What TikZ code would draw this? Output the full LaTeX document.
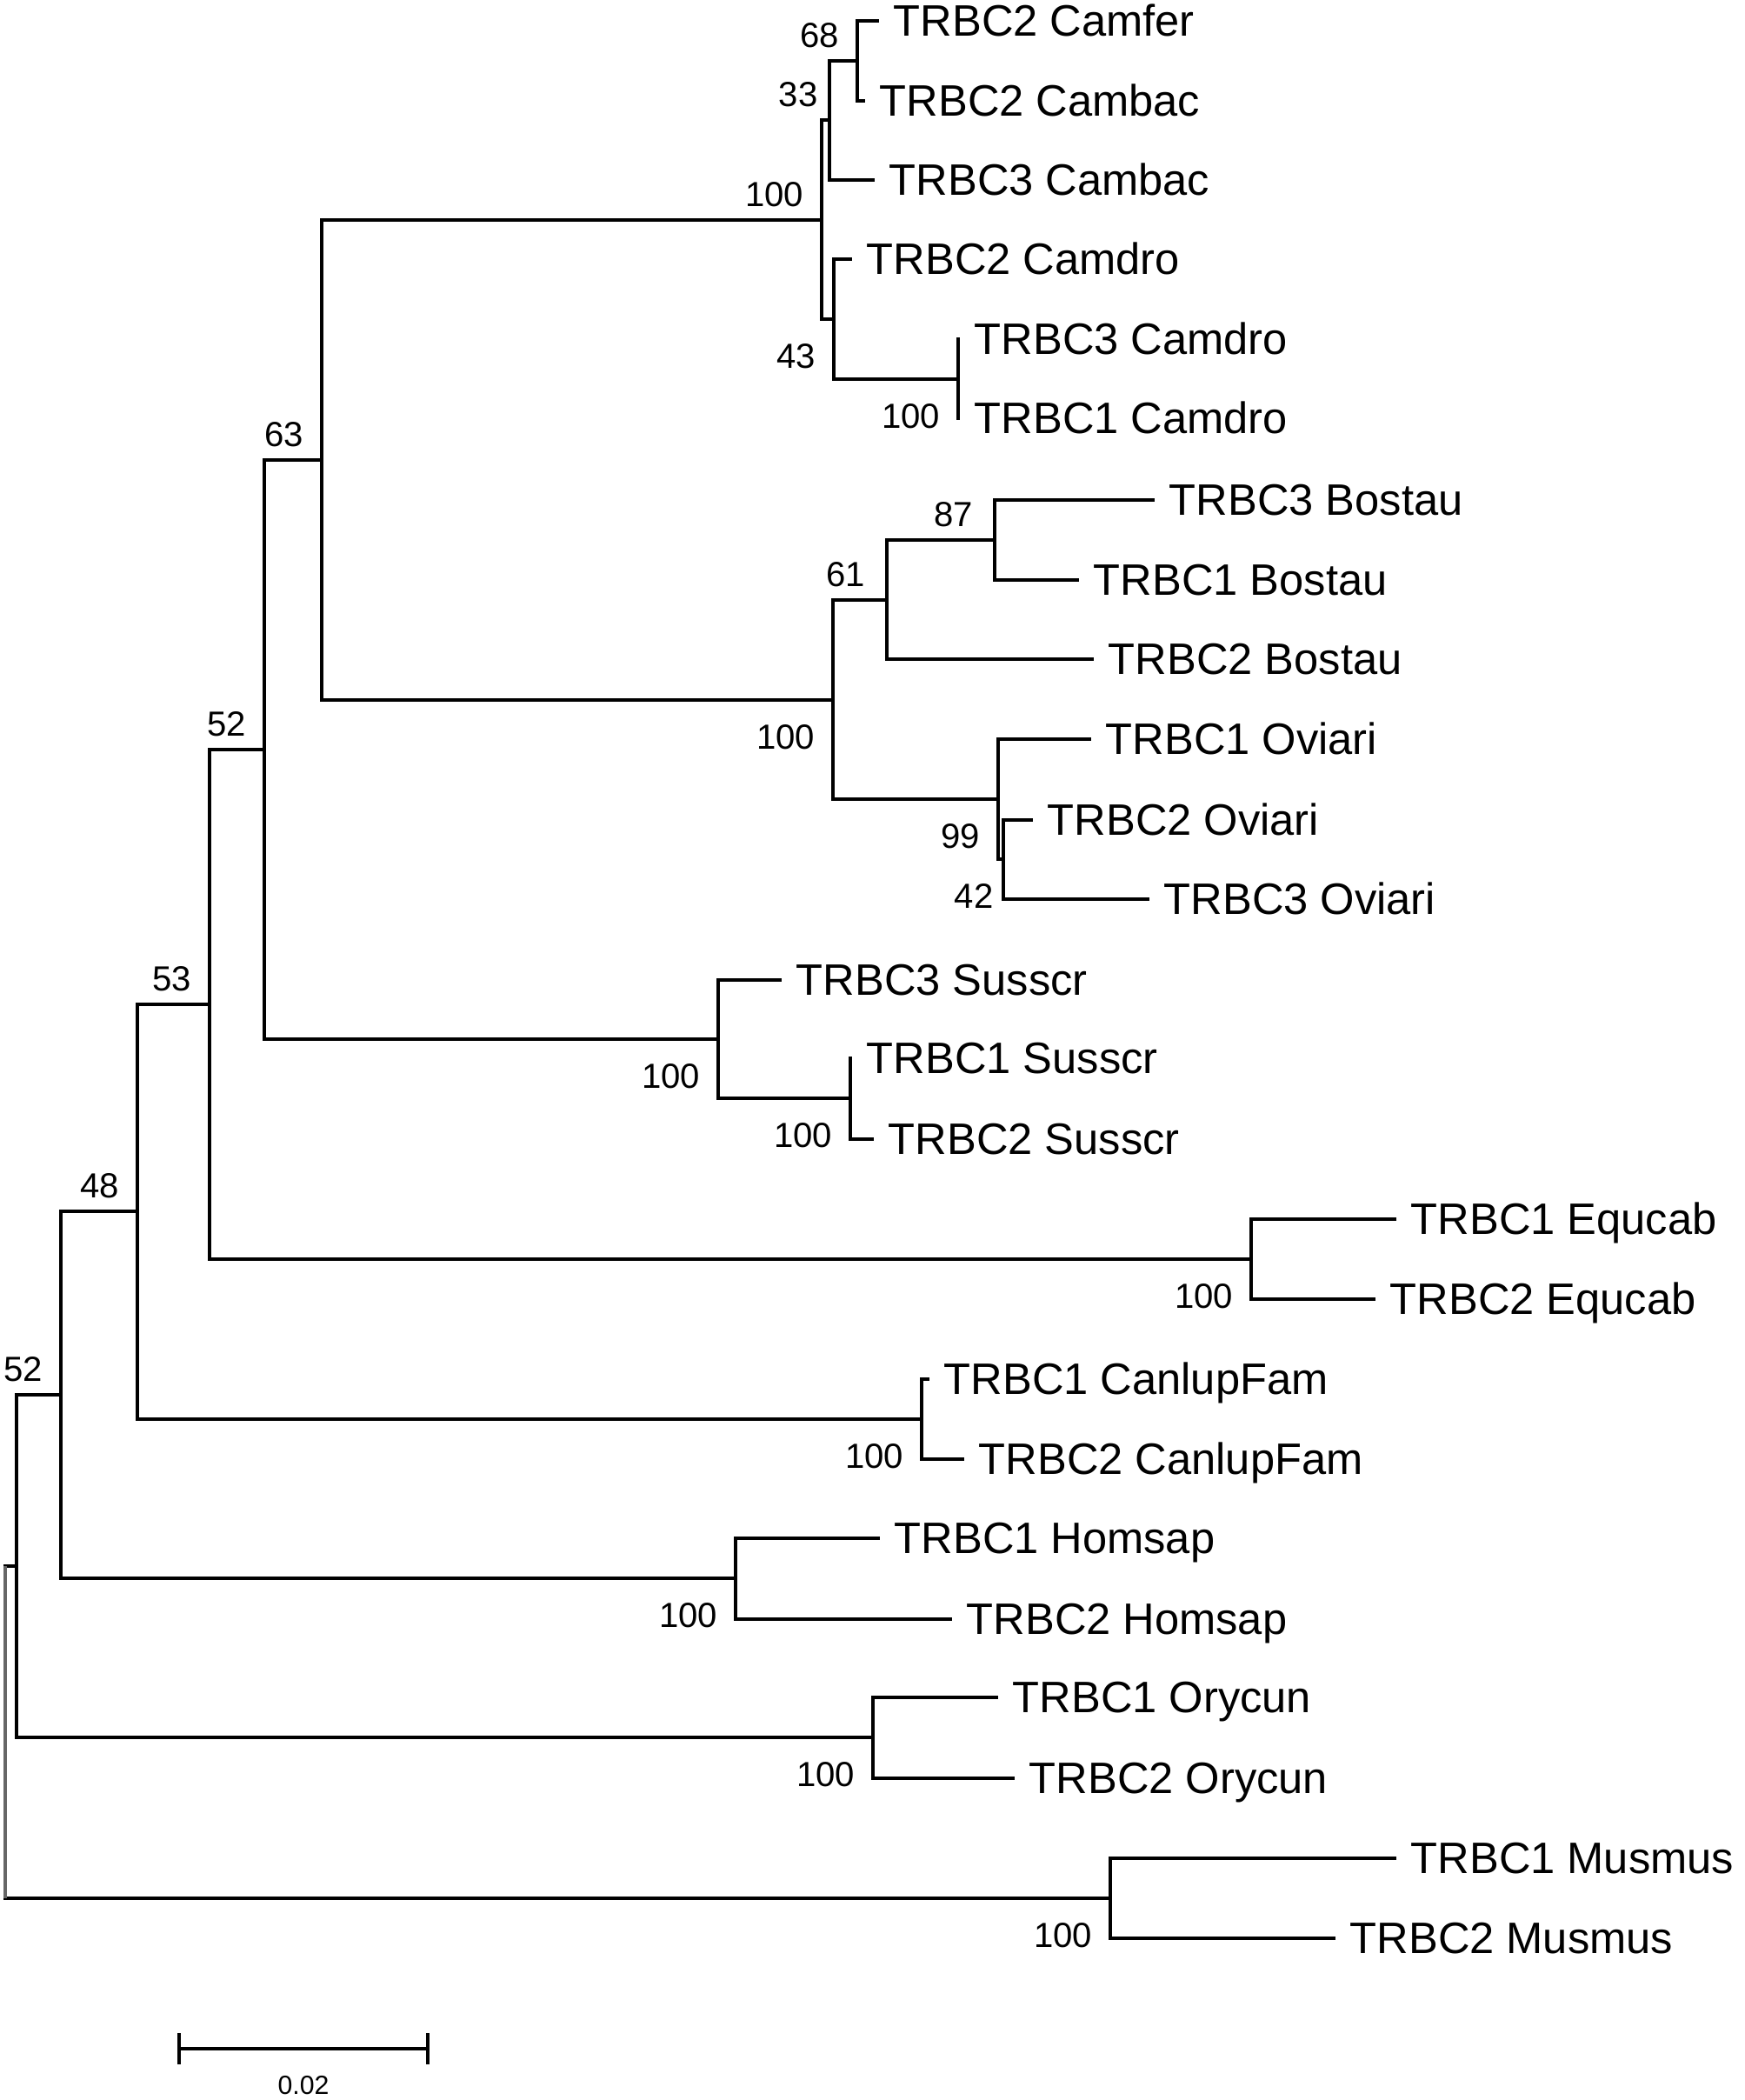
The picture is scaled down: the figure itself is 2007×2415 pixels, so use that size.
\documentclass[tikz,border=0pt]{standalone}
\usepackage{fontspec}
\setmainfont{Liberation Sans}
\usepackage{tikz}

\tikzset{
  branch/.style={line width=1.1pt, line cap=rect},
  leaf/.style={anchor=west, inner xsep=0.18cm, inner ysep=0pt, text height=10.2pt, text depth=0pt, font=\fontsize{14.4}{17}\selectfont},
  bsnum/.style={anchor=east, inner sep=0pt, text height=8.1pt, text depth=0pt, font=\fontsize{11.4}{13}\selectfont, xshift=-0.2cm},
  bsa/.style={bsnum, yshift=0.3cm},
  bsb/.style={bsnum, yshift=-0.42cm},
  scalelab/.style={inner sep=0pt, text height=6.4pt, text depth=0pt, font=\fontsize{8.6}{10}\selectfont}
}

\begin{document}
\begin{tikzpicture}[x=0.01cm, y=-0.01cm]
    \useasboundingbox (0,0) rectangle (2007,2415);

    % Leaf labels (west anchor = tip of branch)
    \node[leaf] (camfer2) at (1009,24) {TRBC2 Camfer};
    \node[leaf] (cambac2) at (993,116) {TRBC2 Cambac};
    \node[leaf] (cambac3) at (1004,207) {TRBC3 Cambac};
    \node[leaf] (camdro2) at (978,298) {TRBC2 Camdro};
    \node[leaf] (camdro3) at (1102,390) {TRBC3 Camdro};
    \node[leaf] (camdro1) at (1102,481) {TRBC1 Camdro};
    \node[leaf] (bostau3) at (1326,575) {TRBC3 Bostau};
    \node[leaf] (bostau1) at (1239,667) {TRBC1 Bostau};
    \node[leaf] (bostau2) at (1256,758) {TRBC2 Bostau};
    \node[leaf] (oviari1) at (1253,850) {TRBC1 Oviari};
    \node[leaf] (oviari2) at (1186,943) {TRBC2 Oviari};
    \node[leaf] (oviari3) at (1320,1034) {TRBC3 Oviari};
    \node[leaf] (susscr3) at (897,1127) {TRBC3 Susscr};
    \node[leaf] (susscr1) at (978,1217) {TRBC1 Susscr};
    \node[leaf] (susscr2) at (1003,1310) {TRBC2 Susscr};
    \node[leaf] (equcab1) at (1604,1402) {TRBC1 Equcab};
    \node[leaf] (equcab2) at (1580,1494) {TRBC2 Equcab};
    \node[leaf] (canlup1) at (1067,1586) {TRBC1 CanlupFam};
    \node[leaf] (canlup2) at (1107,1678) {TRBC2 CanlupFam};
    \node[leaf] (homsap1) at (1010,1769) {TRBC1 Homsap};
    \node[leaf] (homsap2) at (1093,1862) {TRBC2 Homsap};
    \node[leaf] (orycun1) at (1146,1952) {TRBC1 Orycun};
    \node[leaf] (orycun2) at (1165,2045) {TRBC2 Orycun};
    \node[leaf] (musmus1) at (1604,2137) {TRBC1 Musmus};
    \node[leaf] (musmus2) at (1534,2229) {TRBC2 Musmus};

    % Internal nodes
    \coordinate (n68) at (986,70);
    \coordinate (n33) at (954,138);
    \coordinate (ncd) at (1102,436);
    \coordinate (n43) at (959,367);
    \coordinate (ncam) at (945,253);
    \coordinate (n87) at (1144,621);
    \coordinate (n61) at (1020,690);
    \coordinate (n42) at (1154,988);
    \coordinate (n99) at (1148,919);
    \coordinate (nbo) at (958,805);
    \coordinate (n63) at (370,529);
    \coordinate (nsu12) at (978,1263);
    \coordinate (nsu) at (826,1195);
    \coordinate (n52a) at (304,862);
    \coordinate (neq) at (1439,1448);
    \coordinate (n53) at (241,1155);
    \coordinate (ncl) at (1060,1632);
    \coordinate (n48) at (158,1393);
    \coordinate (nhs) at (846,1815);
    \coordinate (n52b) at (70,1604);
    \coordinate (nor) at (1004,1998);
    \coordinate (nx) at (19,1801);
    \coordinate (nmm) at (1277,2183);
    \coordinate (root) at (6,1992);

    % Branches
    \draw[branch] (n68) |- (camfer2.west) (n68) |- (cambac2.west);
    \draw[branch] (n33) |- (n68) (n33) |- (cambac3.west);
    \draw[branch] (ncd) |- (camdro3.west) (ncd) |- (camdro1.west);
    \draw[branch] (n43) |- (camdro2.west) (n43) |- (ncd);
    \draw[branch] (ncam) |- (n33) (ncam) |- (n43);
    \draw[branch] (n87) |- (bostau3.west) (n87) |- (bostau1.west);
    \draw[branch] (n61) |- (n87) (n61) |- (bostau2.west);
    \draw[branch] (n42) |- (oviari2.west) (n42) |- (oviari3.west);
    \draw[branch] (n99) |- (oviari1.west) (n99) |- (n42);
    \draw[branch] (nbo) |- (n61) (nbo) |- (n99);
    \draw[branch] (n63) |- (ncam) (n63) |- (nbo);
    \draw[branch] (nsu12) |- (susscr1.west) (nsu12) |- (susscr2.west);
    \draw[branch] (nsu) |- (susscr3.west) (nsu) |- (nsu12);
    \draw[branch] (n52a) |- (n63) (n52a) |- (nsu);
    \draw[branch] (neq) |- (equcab1.west) (neq) |- (equcab2.west);
    \draw[branch] (n53) |- (n52a) (n53) |- (neq);
    \draw[branch] (ncl) |- (canlup1.west) (ncl) |- (canlup2.west);
    \draw[branch] (n48) |- (n53) (n48) |- (ncl);
    \draw[branch] (nhs) |- (homsap1.west) (nhs) |- (homsap2.west);
    \draw[branch] (n52b) |- (n48) (n52b) |- (nhs);
    \draw[branch] (nor) |- (orycun1.west) (nor) |- (orycun2.west);
    \draw[branch] (nx) |- (n52b) (nx) |- (nor);
    \draw[branch] (nmm) |- (musmus1.west) (nmm) |- (musmus2.west);
    \draw[branch] (root) |- (nx) (root) |- (nmm);
    \draw[line width=1.3pt, black!60] (root |- nx) -- (root |- nmm);

    % Bootstrap values
    \node[bsa] (b68) at (n68) {68};
    \node[bsa, xshift=0.07cm] (b33) at (n33) {33};
    \node[bsa] (bcam) at (ncam) {100};
    \node[bsb] (b43) at (n43) {43};
    \node[bsb] (bcd) at (ncd) {100};
    \node[bsa, xshift=-0.04cm] (b87) at (n87) {87};
    \node[bsa, xshift=-0.04cm] (b61) at (n61) {61};
    \node[bsb] (bbo) at (nbo) {100};
    \node[bsb] (b99) at (n99) {99};
    \node[bsb, xshift=0.09cm] (b42) at (n42) {42};
    \node[bsa] (b63) at (n63) {63};
    \node[bsa] (b52a) at (n52a) {52};
    \node[bsb] (bsu) at (nsu) {100};
    \node[bsb] (bsu12) at (nsu12) {100};
    \node[bsb] (beq) at (neq) {100};
    \node[bsa] (b53) at (n53) {53};
    \node[bsb] (bcl) at (ncl) {100};
    \node[bsa] (b48) at (n48) {48};
    \node[bsb] (bhs) at (nhs) {100};
    \node[bsa] (b52b) at (n52b) {52};
    \node[bsb] (bor) at (nor) {100};
    \node[bsb] (bmm) at (nmm) {100};

    % Scale bar
    \coordinate (sbl) at (206,2356);
    \coordinate (sbr) at (492,2356);
    \draw[branch] (sbl) -- (sbr);
    \draw[branch] ([yshift=0.16cm]sbl) -- ([yshift=-0.16cm]sbl);
    \draw[branch] ([yshift=0.16cm]sbr) -- ([yshift=-0.16cm]sbr);
    \node[scalelab] (sblab) at (349,2397) {0.02};
\end{tikzpicture}
\end{document}
